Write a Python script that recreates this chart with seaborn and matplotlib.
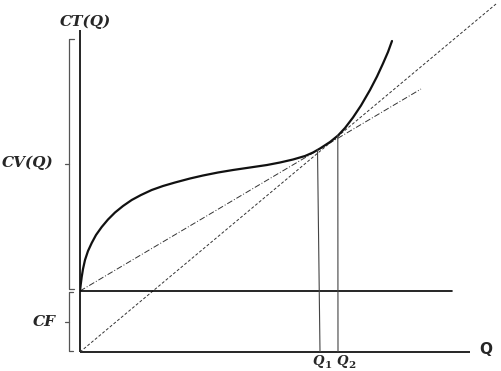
import matplotlib
matplotlib.use("Agg")
import matplotlib.pyplot as plt
import seaborn as sns

sns.set_theme(style="white")

# Total cost curve CT(Q)
ct_q = [0, 0.8, 1.7, 3, 5, 8, 11.7, 16, 21.7, 28, 35, 43, 51.7, 61, 71.7, 83, 95,
        110, 123, 138, 153, 170, 187, 200, 213, 225, 233, 240, 250, 258, 265,
        273, 281, 290, 297, 303, 308, 312]
ct_v = [61, 68, 75, 83, 92, 101, 109, 117, 125, 132.5, 139.5, 146, 152, 157, 162, 166, 169.5,
        173.5, 176.5, 179.5, 182, 184.5, 187, 189.5, 192.5, 196, 199.5, 203.5, 210, 216.5, 224,
        234.5, 246.5, 262, 275.5, 288.5, 300, 311]

# Fixed cost line
cf_q = [0, 372]
cf_v = [61, 61]
# Ray from origin (dashed)
ray_q = [0, 416]
ray_v = [0, 348]
# Ray from CF (dash-dot)
ray2_q = [0, 341]
ray2_v = [61, 263]
# Q1, Q2 guide lines
q1_x = [240, 237.5]
q1_y = [0, 202]
q2_x = [258, 257.8]
q2_y = [0, 216.5]

fig = plt.figure(figsize=(5.01, 3.71), dpi=100)
ax = fig.add_axes([80/501, 19/371, 421/501, 352/371])
ax.set_xlim(0, 421)
ax.set_ylim(0, 352)
for s in ax.spines.values():
    s.set_visible(False)
ax.set_xticks([])
ax.set_yticks([])
ax.set_facecolor("white")
fig.patch.set_facecolor("white")

# axes lines
ax.plot([0, 0], [0, 322], color="black", lw=1.2, clip_on=False, solid_capstyle="butt")
ax.plot([0, 390], [0, 0], color="black", lw=1.2, clip_on=False, solid_capstyle="butt")

sns.lineplot(x=ray_q, y=ray_v, ax=ax, color="#333333", lw=0.7, linestyle=(0, (3, 2)), sort=False)
sns.lineplot(x=ray2_q, y=ray2_v, ax=ax, color="#333333", lw=0.7, linestyle=(0, (6, 2, 1, 2)), sort=False)
sns.lineplot(x=cf_q, y=cf_v, ax=ax, color="black", lw=1.2, sort=False)
sns.lineplot(x=ct_q, y=ct_v, ax=ax, color="#111111", lw=1.6, sort=False)
sns.lineplot(x=q1_x, y=q1_y, ax=ax, color="#444444", lw=0.8, sort=False)
sns.lineplot(x=q2_x, y=q2_y, ax=ax, color="#444444", lw=0.8, sort=False)

# brackets
bc = "#555555"
ax.plot([-6, -11, -11, -6], [313, 313, 63, 63], color=bc, lw=0.9, clip_on=False)
ax.plot([-11, -15], [188, 188], color=bc, lw=0.9, clip_on=False)
ax.plot([-7, -11, -11, -7], [60, 60, 1, 1], color=bc, lw=0.9, clip_on=False)
ax.plot([-11, -15], [30, 30], color=bc, lw=0.9, clip_on=False)

serif = ["DejaVu Serif"]
kw = dict(family=serif, style="italic", weight="bold", clip_on=False, va="center")
ax.text(5, 330, "CT(Q)", fontsize=11, ha="center", **kw)
ax.text(-52, 189, "CV(Q)", fontsize=11, ha="center", **kw)
ax.text(-36, 30, "CF", fontsize=11, ha="center", **kw)
ax.text(406, 3, "Q", family="DejaVu Sans", weight="bold", fontsize=11,
        ha="center", va="center", clip_on=False)
# Q1 / Q2 labels
ax.text(238, -9, "Q", fontsize=9.5, ha="center", **kw)
ax.text(244.5, -13, "1", fontsize=7.5, ha="left", family=serif, weight="bold",
        va="center", clip_on=False)
ax.text(262, -9, "Q", fontsize=9.5, ha="center", **kw)
ax.text(268, -13, "2", fontsize=7.5, ha="left", family=serif, weight="bold",
        va="center", clip_on=False)

fig.savefig("out.png", dpi=100)
